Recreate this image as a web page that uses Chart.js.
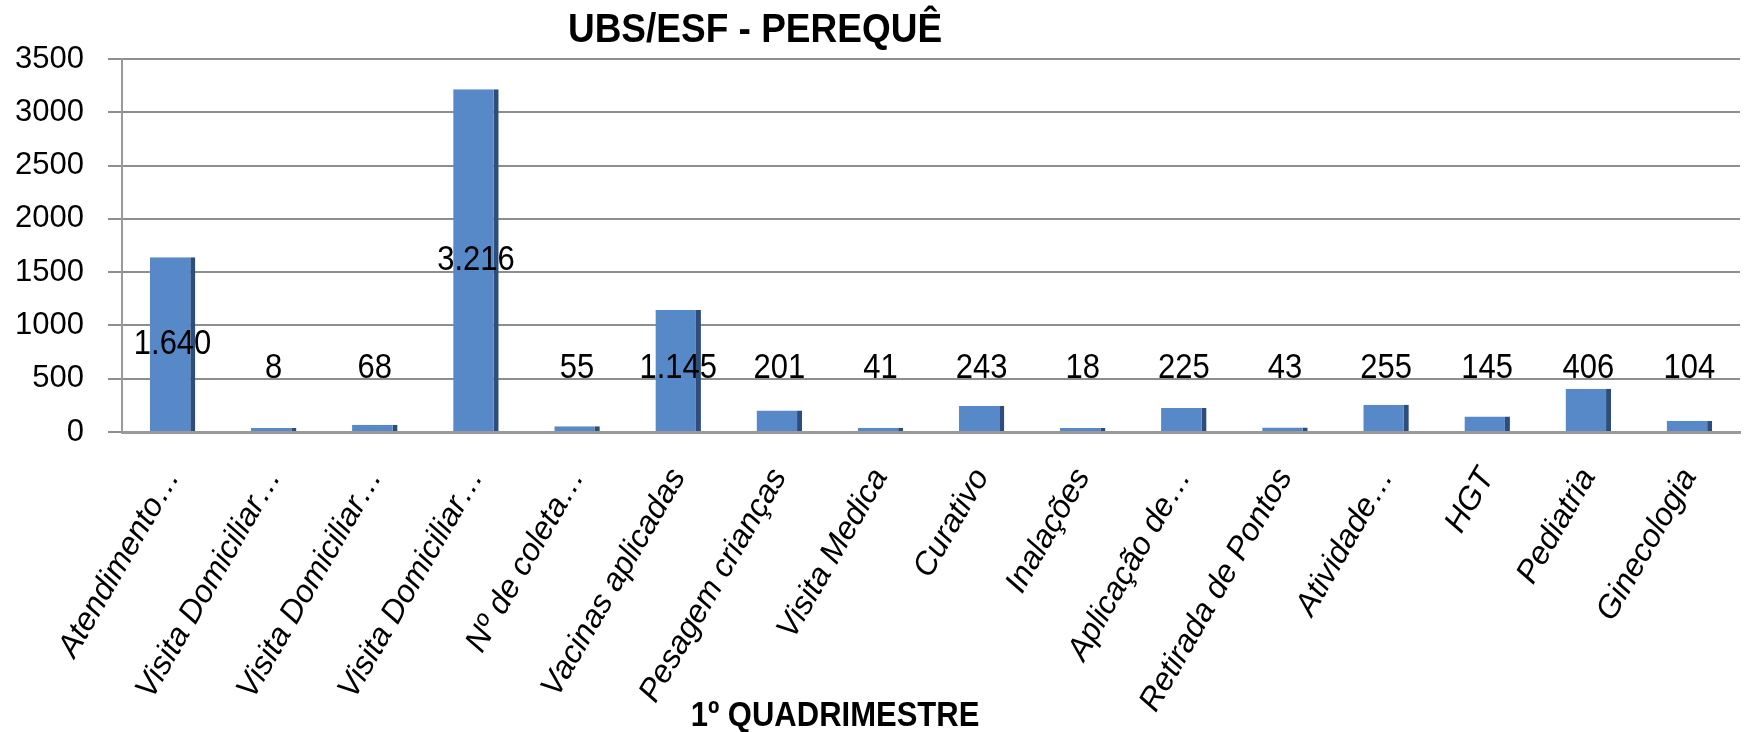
<!DOCTYPE html>
<html>
<head>
<meta charset="utf-8">
<script src="https://cdn.jsdelivr.net/npm/chart.js@4.4.0/dist/chart.umd.min.js"></script>
<style>
  html, body { margin: 0; padding: 0; background: #fff; }
  #wrap { width: 1744px; height: 732px; }
</style>
</head>
<body>
<div id="wrap"><canvas id="chart" width="1744" height="732"></canvas></div>
<script>
// --- Data ---
const categories = [
  "Atendimento…", "Visita Domiciliar…", "Visita Domiciliar…", "Visita Domiciliar…",
  "Nº de coleta…", "Vacinas aplicadas", "Pesagem crianças", "Visita Medica",
  "Curativo", "Inalações", "Aplicação de…", "Retirada de Pontos",
  "Atividade…", "HGT", "Pediatria", "Ginecologia"
];
const values = [1640, 8, 68, 3216, 55, 1145, 201, 41, 243, 18, 225, 43, 255, 145, 406, 104];
const yTicks = [0, 500, 1000, 1500, 2000, 2500, 3000, 3500];
const chartTitle = "UBS/ESF - PEREQUÊ";
const xTitle = "1º QUADRIMESTRE";

const FONT = "'Liberation Sans', Arial, sans-serif";

// 1640 -> "1.640"
const fmt = v => String(v).replace(/\B(?=(\d{3})+(?!\d))/g, ".");

// text in the original is a bit taller than wide, stretch it a little
function tallText(ctx, text, x, y) {
  ctx.save();
  ctx.translate(x, y);
  ctx.scale(1, 1.12);
  ctx.fillText(text, 0, 0);
  ctx.restore();
}

// --- Titles and value labels ---
const overlay = {
  id: "overlay",
  afterDatasetsDraw(chart) {
    const { ctx } = chart;
    const meta = chart.getDatasetMeta(0);
    const y = chart.scales.y;
    ctx.save();
    ctx.fillStyle = "#000";
    ctx.textAlign = "center";
    ctx.textBaseline = "middle";

    ctx.font = "31px " + FONT;
    meta.data.forEach((bar, i) => {
      const v = values[i];
      tallText(ctx, fmt(v), bar.x, y.getPixelForValue(Math.max(v / 2, 600)));
    });

    ctx.font = "bold 37px " + FONT;
    tallText(ctx, chartTitle, 755, 31);
    ctx.font = "bold 31px " + FONT;
    tallText(ctx, xTitle, 835, 716);
    ctx.restore();
  }
};

new Chart(document.getElementById("chart"), {
  type: "bar",
  data: {
    labels: categories,
    datasets: [{
      data: values,
      backgroundColor: "#5789C8",
      borderColor: "#2D4E7C",
      borderWidth: { top: 0, left: 0, bottom: 0, right: 5 },
      borderSkipped: false,
      barPercentage: 0.45,
      categoryPercentage: 1,
      minBarLength: 4
    }]
  },
  options: {
    responsive: false,
    animation: false,
    devicePixelRatio: 1,
    layout: { padding: { top: 59, right: 4, left: 0, bottom: 0 } },
    plugins: {
      legend: { display: false },
      tooltip: { enabled: false }
    },
    scales: {
      x: {
        grid: { display: false, drawTicks: false },
        border: { display: true, color: "#9A9A9A", width: 3 },
        ticks: {
          color: "#000",
          font: { family: FONT, size: 32, style: "italic" },
          minRotation: 60,
          maxRotation: 60,
          padding: 30,
          autoSkip: false
        },
        afterFit: s => { s.height = 300; s.paddingRight = 0; }
      },
      y: {
        min: 0,
        max: 3500,
        afterBuildTicks: s => { s.ticks = yTicks.map(v => ({ value: v })); },
        grid: { color: "#8E8E8E", lineWidth: 2, tickLength: 14 },
        border: { display: true, color: "#9A9A9A", width: 2 },
        ticks: {
          color: "#000",
          font: { family: FONT, size: 31 },
          padding: 24,
          callback: v => String(v)
        },
        afterFit: s => { s.width = 122; }
      }
    }
  },
  plugins: [overlay]
});
</script>
</body>
</html>
